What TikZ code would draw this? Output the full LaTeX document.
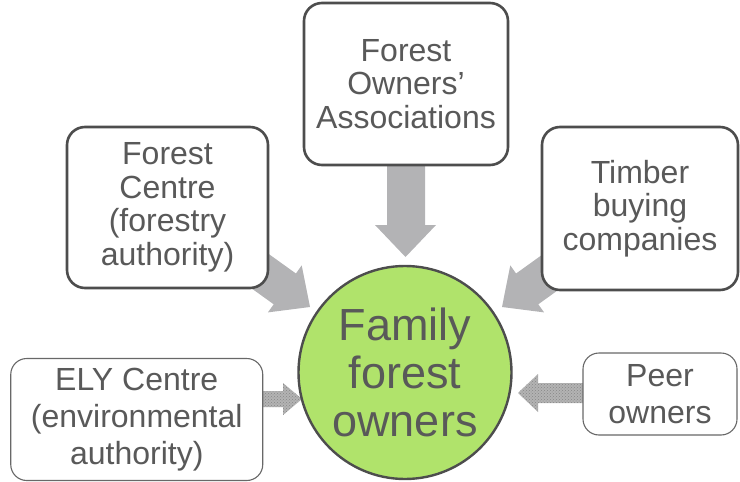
\documentclass[tikz,border=0pt]{standalone}
\usepackage{fontspec}
\setmainfont{Liberation Sans}
\usetikzlibrary{patterns}
\definecolor{txtgray}{HTML}{595959}
\definecolor{edgegray}{HTML}{4D4D4D}
\definecolor{arrgray}{HTML}{B3B3B5}
\definecolor{hatchgray}{HTML}{9A9A9A}
\definecolor{famgreen}{HTML}{B0E36B}
\begin{document}
\begin{tikzpicture}[x=1pt,y=-1pt,
  bigbox/.style={draw=edgegray, line width=2.6pt, fill=white, rounded corners=18pt,
    text=txtgray, align=center, font=\fontsize{32}{33.5}\selectfont, inner sep=0pt},
  thinbox/.style={draw=edgegray!85, line width=1.1pt, fill=white, rounded corners=16pt,
    text=txtgray, align=center, font=\fontsize{32}{37}\selectfont, inner sep=0pt},
  blockarrow/.style={fill=arrgray, draw=none},
  hatcharrow/.style={fill=hatchgray!75, draw=none, postaction={pattern=crosshatch dots, pattern color=gray!95}}
]
\useasboundingbox (0,0) rectangle (740,482);

% block arrows (drawn first, boxes cover their tails)
\fill[blockarrow] (387,160) -- (425,160) -- (425,225) -- (436,225) -- (405.5,257)
  -- (375,225) -- (387,225) -- cycle;
\fill[blockarrow] (230.9,226.8) -- (295.9,273.5) -- (301.7,265.4) -- (310,307)
  -- (267.9,312.4) -- (273.7,304.3) -- (208.7,257.6) -- cycle;
\fill[blockarrow] (581.1,226.8) -- (516.1,273.5) -- (510.3,265.4) -- (502,307)
  -- (544.1,312.4) -- (538.3,304.3) -- (603.3,257.6) -- cycle;
\path[hatcharrow] (255,391) -- (283,391) -- (283,383) -- (302,399) -- (283,415)
  -- (283,407) -- (255,407) -- cycle;
\path[hatcharrow] (590,383) -- (538,383) -- (538,374) -- (518,393) -- (538,412)
  -- (538,403) -- (590,403) -- cycle;

% boxes
\node[bigbox, minimum width=204pt, minimum height=162pt] (foa) at (406,84)
  {Forest\\Owners’\\Associations};
\node[bigbox, minimum width=201pt, minimum height=161pt] (fc) at (167.5,207.5)
  {Forest\\Centre\\(forestry\\authority)};
\node[bigbox, minimum width=196pt, minimum height=163pt] (tbc) at (640,208.5)
  {Timber\\buying\\companies};
\node[thinbox, minimum width=252pt, minimum height=122pt] (ely) at (136.75,419.5)
  {ELY Centre\\(environmental\\authority)};
\node[thinbox, minimum width=154pt, minimum height=82pt] (peer) at (660,394)
  {Peer\\owners};

% centre circle
\node[circle, draw=edgegray, line width=2.4pt, fill=famgreen, minimum size=213pt,
  inner sep=0pt, text=txtgray, align=center, font=\fontsize{45}{48}\selectfont]
  (fam) at (405,372.5) {Family\\forest\\owners};
\end{tikzpicture}
\end{document}
